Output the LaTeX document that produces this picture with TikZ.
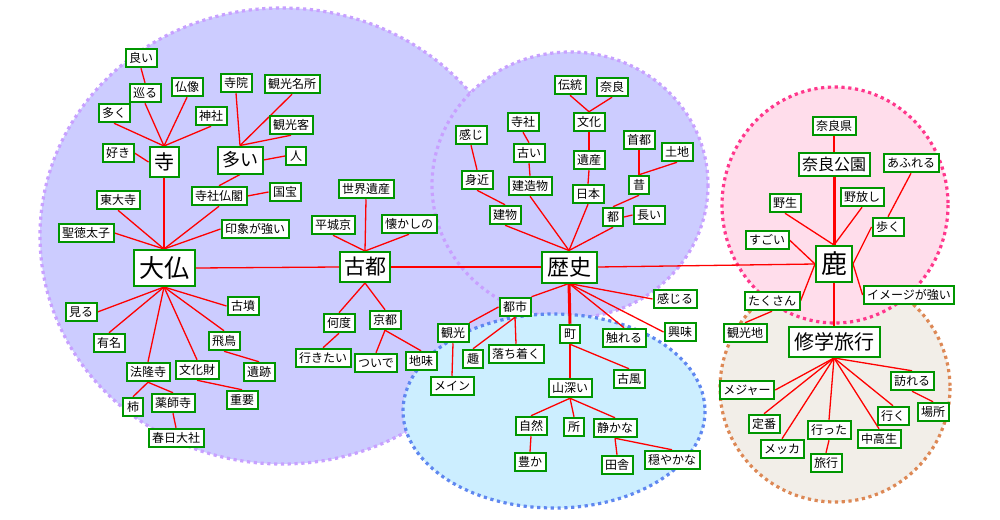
\documentclass[tikz,border=0pt]{standalone}
\usepackage{fontspec}
\newfontfamily\jp{Noto Sans CJK JP}
\definecolor{lavfill}{RGB}{204,204,255}
\definecolor{lavline}{RGB}{200,160,255}
\definecolor{bluefill}{RGB}{204,238,255}
\definecolor{blueline}{RGB}{95,135,240}
\definecolor{pinkfill}{RGB}{255,221,235}
\definecolor{pinkline}{RGB}{255,55,140}
\definecolor{beigefill}{RGB}{242,238,232}
\definecolor{beigeline}{RGB}{221,136,85}
\definecolor{ngreen}{RGB}{0,150,0}
\pgfdeclarelayer{bg}
\pgfdeclarelayer{edges}
\pgfsetlayers{bg,edges,main}
\tikzset{
  lbl/.style={draw=ngreen, line width=2pt, fill=white, inner xsep=3.5pt, inner ysep=1pt,
    minimum height=18.5pt, minimum width=20pt, font=\jp\fontsize{12}{12}\selectfont},
  hub/.style={lbl, inner sep=0pt, font=\jp\fontsize{#1}{#1}\selectfont},
  e/.style={draw=red, line width=1.3pt},
  ethick/.style={draw=red, line width=3pt},
  cluster/.style={line width=3.2pt, dash pattern=on 3.2pt off 3.6pt}
}
\begin{document}
\begin{tikzpicture}[x=1pt,y=-1pt]
\useasboundingbox (0,0) rectangle (1000,519);
\begin{pgfonlayer}{bg}
\fill[white] (0,0) rectangle (1000,519);
\path[cluster, fill=lavfill, draw=lavline] (282,236) ellipse [x radius=242, y radius=228];
\path[cluster, fill=lavfill, draw=lavline] (570,185) ellipse [x radius=138, y radius=133];
\path[cluster, fill=bluefill, draw=blueline] (554,411) ellipse [x radius=151, y radius=97];
\path[cluster, fill=beigefill, draw=beigeline] (835,388) ellipse [x radius=115, y radius=114];
\path[cluster, fill=pinkfill, draw=pinkline] (835,205) ellipse [x radius=113, y radius=118];
\end{pgfonlayer}

% hubs
\node[hub=25, minimum width=61, minimum height=36] (daibutsu) at (164,268) {大仏};
\node[hub=20, minimum width=29, minimum height=30] (tera) at (164,162) {寺};
\node[hub=18, minimum width=45, minimum height=27] (ooi) at (240,160) {多い};
\node[hub=21, minimum width=50, minimum height=30] (koto) at (365,267) {古都};
\node[hub=22, minimum width=55, minimum height=31] (rekishi) at (569,267) {歴史};
\node[hub=26, minimum width=36, minimum height=36] (shika) at (834,264) {鹿};
\node[hub=16, minimum width=71, minimum height=23] (narakoen) at (834,164) {奈良公園};
\node[hub=20, minimum width=91, minimum height=30] (shugaku) at (834,342) {修学旅行};

% 大仏 cluster
\node[lbl] (yoi) at (141,58) {良い};
\node[lbl] (meguru) at (145,93) {巡る};
\node[lbl] (butsuzo) at (187,87) {仏像};
\node[lbl] (ooku) at (114,113) {多く};
\node[lbl] (jinja) at (211,116) {神社};
\node[lbl] (suki) at (118,153) {好き};
\node[lbl] (jiin) at (236,83) {寺院};
\node[lbl] (meisho) at (292,84) {観光名所};
\node[lbl] (kankokyaku) at (291,125) {観光客};
\node[lbl] (hito) at (296,156) {人};
\node[lbl] (jisha) at (219,196) {寺社仏閣};
\node[lbl] (kokuho) at (285,192) {国宝};
\node[lbl] (todaiji) at (118,200) {東大寺};
\node[lbl] (shotoku) at (86,233) {聖徳太子};
\node[lbl] (insho) at (255,229) {印象が強い};
\node[lbl] (miru) at (81,312) {見る};
\node[lbl] (yumei) at (109,343) {有名};
\node[lbl] (kofun) at (243,306) {古墳};
\node[lbl] (asuka) at (224,341) {飛鳥};
\node[lbl] (iseki) at (259,372) {遺跡};
\node[lbl] (horyuji) at (148,372) {法隆寺};
\node[lbl] (bunkazai) at (197,370) {文化財};
\node[lbl] (juyo) at (242,400) {重要};
\node[lbl] (kaki) at (133,407) {柿};
\node[lbl] (yakushiji) at (173,403) {薬師寺};
\node[lbl] (kasuga) at (176,438) {春日大社};
% 古都
\node[lbl] (sekai) at (366,189) {世界遺産};
\node[lbl] (heijo) at (333,225) {平城京};
\node[lbl] (natsukashi) at (409,224) {懐かしの};
\node[lbl] (nando) at (339,323) {何度};
\node[lbl] (kyoto) at (385,320) {京都};
\node[lbl] (ikitai) at (323,358) {行きたい};
\node[lbl] (tsuide) at (376,363) {ついで};
\node[lbl] (jimi) at (421,361) {地味};
% 歴史
\node[lbl] (kanji) at (471,135) {感じ};
\node[lbl] (dento) at (570,85) {伝統};
\node[lbl] (nara) at (612,87) {奈良};
\node[lbl] (bunka) at (589,122) {文化};
\node[lbl] (jisha2) at (523,122) {寺社};
\node[lbl] (furui) at (529,153) {古い};
\node[lbl] (mijika) at (477,180) {身近};
\node[lbl] (kenzo) at (530,186) {建造物};
\node[lbl] (isan) at (589,160) {遺産};
\node[lbl] (nihon) at (588,194) {日本};
\node[lbl] (shuto) at (639,140) {首都};
\node[lbl] (tochi) at (677,152) {土地};
\node[lbl] (mukashi) at (639,185) {昔};
\node[lbl] (tatemono) at (505,215) {建物};
\node[lbl] (miyako) at (613,217) {都};
\node[lbl] (nagai) at (649,215) {長い};
\node[lbl] (kanjiru) at (675,299) {感じる};
\node[lbl] (toshi) at (515,307) {都市};
\node[lbl] (kanko) at (453,333) {観光};
\node[lbl] (mein) at (452,386) {メイン};
\node[lbl] (omomuki) at (473,359) {趣};
\node[lbl] (ochitsuku) at (516,354) {落ち着く};
\node[lbl] (machi) at (570,334) {町};
\node[lbl] (fureru) at (624,338) {触れる};
\node[lbl] (kyomi) at (680,332) {興味};
\node[lbl] (kofu) at (629,379) {古風};
\node[lbl] (yamabukai) at (570,388) {山深い};
\node[lbl] (shizen) at (531,426) {自然};
\node[lbl] (tokoro) at (574,427) {所};
\node[lbl] (shizuka) at (615,428) {静かな};
\node[lbl] (yutaka) at (530,462) {豊か};
\node[lbl] (inaka) at (617,465) {田舎};
\node[lbl] (odayaka) at (672,460) {穏やかな};
% 鹿
\node[lbl] (naraken) at (834,126) {奈良県};
\node[lbl] (afureru) at (911,163) {あふれる};
\node[lbl] (yasei) at (785,203) {野生};
\node[lbl] (nobanashi) at (862,197) {野放し};
\node[lbl] (aruku) at (888,227) {歩く};
\node[lbl] (sugoi) at (767,240) {すごい};
\node[lbl] (takusan) at (772,301) {たくさん};
\node[lbl] (imeji) at (909,295) {イメージが強い};
\node[lbl] (kankochi) at (745,333) {観光地};
% 修学旅行
\node[lbl] (otozureru) at (912,381) {訪れる};
\node[lbl] (basho) at (933,412) {場所};
\node[lbl] (major) at (747,390) {メジャー};
\node[lbl] (teiban) at (764,424) {定番};
\node[lbl] (itta) at (829,430) {行った};
\node[lbl] (iku) at (893,416) {行く};
\node[lbl] (chukosei) at (879,439) {中高生};
\node[lbl] (mecca) at (782,449) {メッカ};
\node[lbl] (ryoko) at (826,463) {旅行};

\begin{pgfonlayer}{edges}
% 寺 / 多い
\draw[e] (yoi.south) -- (meguru.north);
\draw[e] (meguru.south) -- (tera.north);
\draw[e] (butsuzo.south) -- (tera.north);
\draw[e] (ooku.south) -- (tera.north);
\draw[e] (jinja.south) -- (tera.north);
\draw[e] (suki.east) -- (tera.west);
\draw[e] (tera.south) -- (daibutsu.north);
\draw[e] (jiin.south) -- (ooi.north);
\draw[e] (meisho.south) -- (ooi.north);
\draw[e] (kankokyaku.south) -- (ooi.north);
\draw[e] (ooi.east) -- (hito.west);
\draw[e] (ooi.south) -- (jisha.north);
\draw[e] (jisha.east) -- (kokuho.west);
\draw[e] (jisha.south) -- (daibutsu.north);
\draw[e] (todaiji.south) -- (daibutsu.north);
\draw[e] (shotoku.east) -- (daibutsu.north);
\draw[e] (insho.west) -- (daibutsu.north);
% 大仏 bottom
\draw[e] (daibutsu.south) -- (miru.east);
\draw[e] (daibutsu.south) -- (yumei.north);
\draw[e] (daibutsu.south) -- (horyuji.north);
\draw[e] (daibutsu.south) -- (bunkazai.north);
\draw[e] (daibutsu.south) -- (asuka.north);
\draw[e] (daibutsu.south) -- (kofun.west);
\draw[e] (asuka.south) -- (iseki.north);
\draw[e] (bunkazai.south) -- (juyo.north);
\draw[e] (horyuji.south) -- (kaki.north);
\draw[e] (horyuji.south) -- (yakushiji.north);
\draw[e] (yakushiji.south) -- (kasuga.north);
\draw[e] (daibutsu.east) -- (koto.west);
% 古都
\draw[e] (sekai.south) -- (koto.north);
\draw[e] (heijo.south) -- (koto.north);
\draw[e] (natsukashi.south) -- (koto.north);
\draw[e] (koto.south) -- (nando.north);
\draw[e] (koto.south) -- (kyoto.north);
\draw[e] (nando.south) -- (ikitai.north);
\draw[e] (kyoto.south) -- (tsuide.north);
\draw[e] (kyoto.south) -- (jimi.north);
\draw[e] (koto.east) -- (rekishi.west);
% 歴史 top
\draw[e] (dento.south) -- (bunka.north);
\draw[e] (nara.south) -- (bunka.north);
\draw[e] (bunka.south) -- (isan.north);
\draw[e] (isan.south) -- (nihon.north);
\draw[e] (nihon.south) -- (rekishi.north);
\draw[e] (jisha2.south) -- (furui.north);
\draw[e] (furui.south) -- (kenzo.north);
\draw[e] (kenzo.south) -- (rekishi.north);
\draw[e] (kanji.south) -- (mijika.north);
\draw[e] (mijika.south) -- (tatemono.north);
\draw[e] (tatemono.south) -- (rekishi.north);
\draw[e] (shuto.south) -- (mukashi.north);
\draw[e] (tochi.south) -- (mukashi.north);
\draw[e] (mukashi.south) -- (miyako.north);
\draw[e] (miyako.east) -- (nagai.west);
\draw[e] (miyako.south) -- (rekishi.north);
% 歴史 bottom
\draw[e] (rekishi.south) -- (kanjiru.west);
\draw[e] (rekishi.south) -- (toshi.north east);
\draw[ethick] (rekishi.south) -- (machi.north);
\draw[e] (rekishi.south) -- (fureru.north);
\draw[e] (rekishi.south) -- (kyomi.west);
\draw[e] (toshi.west) -- (kanko.north east);
\draw[e] (toshi.south) -- (omomuki.north);
\draw[e] (toshi.south) -- (ochitsuku.north);
\draw[e] (kanko.south) -- (mein.north);
\draw[e] (machi.south) -- (yamabukai.north);
\draw[e] (machi.south) -- (kofu.north);
\draw[e] (yamabukai.south) -- (shizen.north);
\draw[e] (yamabukai.south) -- (tokoro.north);
\draw[e] (yamabukai.south) -- (shizuka.north);
\draw[e] (shizen.south) -- (yutaka.north);
\draw[e] (shizuka.south) -- (inaka.north);
\draw[e] (shizuka.south) -- (odayaka.north);
\draw[e] (rekishi.east) -- (shika.west);
% 鹿
\draw[e] (naraken.south) -- (narakoen.north);
\draw[ethick] (narakoen.south) -- (shika.north);
\draw[e] (yasei.south) -- (shika.north);
\draw[e] (nobanashi.south) -- (shika.north);
\draw[e] (afureru.south) -- (aruku.north);
\draw[e] (aruku.west) -- (shika.east);
\draw[e] (shika.east) -- (imeji.west);
\draw[e] (sugoi.east) -- (shika.west);
\draw[e] (shika.west) -- (takusan.east);
\draw[e] (takusan.south) -- (kankochi.north);
\draw[e] (shika.south) -- (shugaku.north);
% 修学旅行
\draw[e] (shugaku.south) -- (otozureru.north);
\draw[e] (shugaku.south) -- (major.east);
\draw[e] (shugaku.south) -- (teiban.north);
\draw[e] (shugaku.south) -- (mecca.north);
\draw[e] (shugaku.south) -- (itta.north);
\draw[e] (shugaku.south) -- (chukosei.north);
\draw[e] (shugaku.south) -- (iku.north);
\draw[e] (otozureru.south) -- (basho.north);
\draw[e] (itta.south) -- (ryoko.north);
\end{pgfonlayer}
\end{tikzpicture}
\end{document}
